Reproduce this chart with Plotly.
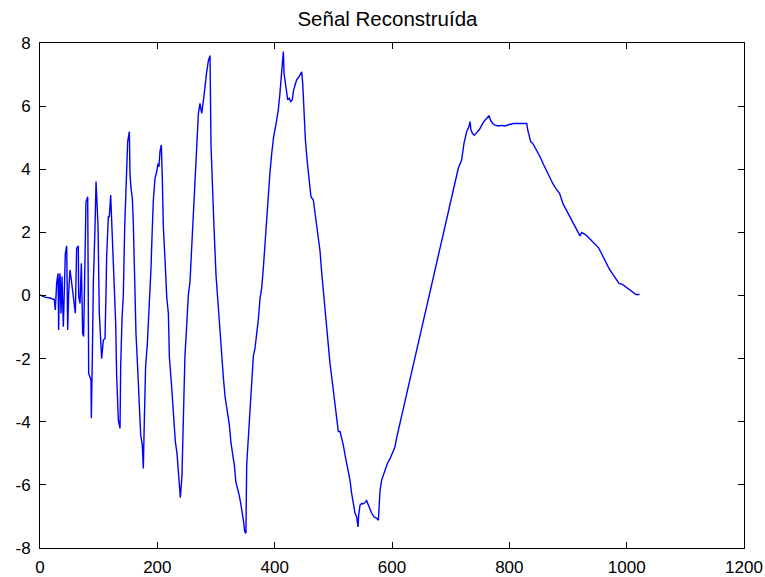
import plotly.graph_objects as go

# Reconstructed signal: sample index vs. amplitude
sample_idx = [
    0, 8, 17, 24.4, 26.1, 28.4, 30.7, 31.8, 33.0, 34.1, 35.8, 37.5, 39.8, 42.0, 43.2, 45.5,
    47.2, 48.9, 51.1, 53.4, 55.7, 57.4, 60.2, 62.5, 65.3, 65.9, 68.2, 70.5, 72.7, 74.4,
    76.7, 78.4, 81.3, 83.0, 86.9, 87.5, 89.2, 90.9, 93.8, 95.5, 97.2, 98.9, 101.1, 104.0,
    105.1, 108.0, 110.8, 112.5, 113.6, 116.5, 118.2, 120.5, 122.7, 125.0, 126.0, 129.0,
    130.7, 133.5, 136.4, 137.5, 139.8, 142.0, 144.3, 146.6, 149.4, 152.3, 153.4, 155.1,
    157.4, 159.0, 160.8, 163.6, 166.5, 169.3, 171.6, 174.4, 176.1, 177.8, 180.0, 183.0,
    185.8, 187.5, 189.2, 191.0, 193.2, 196.0, 198.9, 201.1, 202.8, 204.5, 206.8, 208.5,
    210.2, 213.0, 216.0, 218.8, 220.5, 224.4, 227.0, 230.7, 233.5, 236.4, 239.2, 242.0,
    244.3, 247.0, 250.0, 252.8, 255.7, 258.5, 261.4, 264.2, 267.0, 270.0, 272.7, 275.6,
    278.4, 281.3, 284.0, 287.0, 289.8, 291.5, 294.0, 296.5, 300.0, 303.0, 306.0, 309.0,
    312.5, 315.6, 319.3, 322.7, 325.6, 328.4, 331.3, 334.0, 336.4, 339.2, 342.0, 344.9,
    347.0, 348.9, 351.0, 352.3, 355.0, 358.0, 360.8, 363.6, 366.5, 369.3, 372.2, 375.0,
    377.8, 380.7, 383.5, 386.4, 389.2, 392.0, 395.0, 398.0, 402.0, 406.2, 409.0, 411.9,
    413.6, 414.8, 416.0, 418.2, 420.5, 422.2, 425.0, 427.3, 430.1, 431.8, 434.7, 437.5,
    441.5, 444.4, 446.1, 447.8, 449.5, 452.3, 455.7, 459.0, 461.9, 465.9, 468.8, 471.6,
    474.4, 477.3, 480.0, 483.0, 485.8, 488.6, 491.5, 494.3, 497.2, 500.0, 502.8, 505.7,
    508.5, 511.4, 514.2, 517.0, 520.0, 522.7, 525.6, 528.4, 531.2, 534.0, 537.0, 539.8,
    542.0, 543.2, 545.5, 548.3, 551.0, 554.0, 556.8, 559.7, 562.5, 565.4, 569.3, 573.9,
    576.8, 577.9, 579.6, 582.4, 584.0, 588.0, 592.0, 596.6, 601.0, 605.0, 608.0, 613.6,
    622.0, 633.5, 645.0, 656.0, 667.6, 679.0, 690.0, 701.7, 713.0, 718.7, 722.7, 727.3,
    731.2, 733.0, 734.6, 737.0, 740.3, 744.4, 749.0, 753.0, 757.5, 761.4, 765.3, 768.3,
    771.7, 775.6, 781.4, 787.0, 792.7, 798.4, 807.0, 818.3, 829.7, 831.4, 833.7, 836.5,
    840.0, 845.0, 849.0, 853.6, 858.3, 862.3, 868.0, 874.0, 879.8, 885.6, 891.4, 897.2,
    903.0, 908.8, 914.6, 920.4, 923.3, 929.0, 935.0, 940.6, 946.4, 952.2, 958.0, 963.8,
    969.6, 975.4, 981.2, 987.0, 992.8, 998.6, 1004.4, 1010.0, 1016.0, 1022.0,
]

amplitude = [
    0.02, -0.05, -0.08, -0.13, -0.46, 0.39, 0.70, -1.09, 0.45, 0.70, -0.57, 0.60, -0.99, 0.81, 1.34, 1.57,
    -1.09, 0.10, 0.81, 0.49, 0.17, -0.04, -0.56, 1.50, 1.57, -0.03, -0.25, 1.02, -1.20, -1.30,
    1.92, 2.97, 3.13, -2.47, -2.68, -3.89, -1.94, 0.39, 2.18, 3.61, 2.92, 2.18, -0.56, -1.72,
    -2.00, -1.41, -1.36, 0.06, 1.23, 2.50, 2.50, 3.18, 2.18, 1.34, 0.70, -0.88,
    -2.57, -3.94, -4.21, -2.26, -0.73, 0.01, 2.12, 3.77, 4.87, 5.19, 3.87, 3.40,
    3.08, 2.34, 0.92, -1.20, -2.31, -3.63, -4.42, -4.74, -5.48, -3.99, -2.26, -1.52,
    -0.62, -0.04, 0.86, 1.91, 3.02, 3.71, 3.92, 4.18, 4.08, 4.56, 4.77, 3.71,
    2.18, 1.18, -0.04, -0.57, -1.94, -2.90, -3.77, -4.63, -5.00, -5.76, -6.41, -5.70,
    -3.44, -1.93, -0.96, 0.00, 0.44, 1.51, 2.75, 3.83, 4.96, 5.77, 6.09, 5.77,
    6.15, 6.74, 7.06, 7.44, 7.60, 4.75, 3.24, 2.21, 0.65, -0.21, -1.07, -1.83,
    -2.58, -3.23, -3.66, -4.09, -4.68, -5.00, -5.38, -5.92, -6.08, -6.30, -6.57, -6.89,
    -7.16, -7.48, -7.54, -5.38, -4.52, -3.44, -2.63, -1.93, -1.67, -1.23, -0.75, -0.10,
    0.22, 0.87, 1.68, 2.38, 3.20, 3.90, 4.50, 5.00, 5.40, 5.88, 6.41, 7.04,
    7.46, 7.73, 7.04, 6.72, 6.30, 6.20, 6.25, 6.14, 6.20, 6.46, 6.67, 6.83,
    6.93, 7.04, 7.09, 6.72, 5.88, 4.96, 4.21, 3.56, 3.13, 3.02, 2.59, 2.27,
    1.84, 1.41, 0.76, 0.11, -0.53, -1.07, -1.61, -2.15, -2.58, -3.01, -3.44, -3.98,
    -4.31, -4.31, -4.52, -4.74, -5.06, -5.28, -5.60, -5.85, -6.27, -6.59, -6.90, -7.01,
    -7.33, -6.96, -6.64, -6.59, -6.60, -6.56, -6.50, -6.64, -6.80, -6.90, -7.01, -7.06,
    -7.12, -6.48, -6.17, -5.85, -5.76, -5.49, -5.33, -5.17, -5.00, -4.80, -4.50, -4.00,
    -3.36, -2.43, -1.50, -0.60, 0.34, 1.27, 2.16, 3.11, 4.03, 4.29, 4.82, 5.19,
    5.35, 5.51, 5.24, 5.14, 5.08, 5.16, 5.26, 5.40, 5.54, 5.61, 5.70, 5.54,
    5.45, 5.40, 5.37, 5.39, 5.37, 5.41, 5.45, 5.45, 5.45, 5.24, 5.03, 4.87,
    4.82, 4.66, 4.50, 4.35, 4.15, 3.99, 3.75, 3.55, 3.38, 3.24, 2.91, 2.70,
    2.48, 2.27, 2.05, 1.89, 2.00, 1.94, 1.84, 1.73, 1.62, 1.51, 1.30, 1.08,
    0.87, 0.70, 0.54, 0.38, 0.35, 0.27, 0.17, 0.09, 0.03, 0.03,
]

x_ticks = [0, 200, 400, 600, 800, 1000, 1200]
y_ticks = [-8, -6, -4, -2, 0, 2, 4, 6, 8]

font_family = "Liberation Sans, Arial, sans-serif"

fig = go.Figure()
fig.add_trace(go.Scatter(
    x=sample_idx, y=amplitude, mode="lines",
    line=dict(color="#0000FF", width=1.4),
    showlegend=False, hoverinfo="skip",
))

axis_common = dict(
    showgrid=False, zeroline=False, automargin=False,
    showline=True, linecolor="black", linewidth=1,
    mirror="ticks", ticks="inside", ticklen=6, tickcolor="black", tickwidth=1,
    tickfont=dict(family=font_family, size=17, color="black"),
)

fig.update_xaxes(range=[0, 1200], tickvals=x_ticks,
                 ticktext=[str(v) for v in x_ticks], ticklabelstandoff=4, **axis_common)
fig.update_yaxes(range=[-8, 8], tickvals=y_ticks,
                 ticktext=[str(v) for v in y_ticks], ticklabelstandoff=5, **axis_common)

fig.update_layout(
    width=765, height=577,
    margin=dict(l=40, r=21, t=43, b=29, autoexpand=False),
    paper_bgcolor="white", plot_bgcolor="white",
    title=dict(text="Señal Reconstruída", x=0.5065, xanchor="center",
               y=1 - 19 / 577, yref="container", yanchor="middle", automargin=False,
               font=dict(family=font_family, size=20.5, color="black")),
)

fig.write_html("out.html")
